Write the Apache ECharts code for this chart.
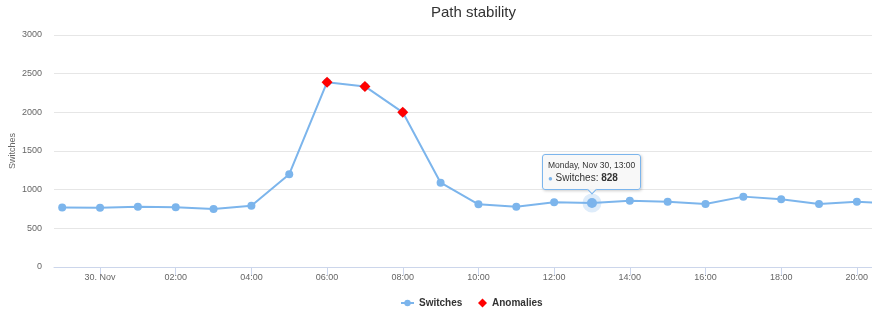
<!DOCTYPE html>
<html><head><meta charset="utf-8">
<script src="https://cdn.jsdelivr.net/npm/echarts@6/dist/echarts.min.js"></script>
<style>html,body{margin:0;padding:0;background:#fff}#c{width:872px;height:310px}</style>
</head><body><div id="c"></div>
<script>
// ---- data ----
const times = [
  '2020-11-29 23:00','2020-11-30 00:00','2020-11-30 01:00','2020-11-30 02:00','2020-11-30 03:00',
  '2020-11-30 04:00','2020-11-30 05:00','2020-11-30 06:00','2020-11-30 07:00','2020-11-30 08:00',
  '2020-11-30 09:00','2020-11-30 10:00','2020-11-30 11:00','2020-11-30 12:00','2020-11-30 13:00',
  '2020-11-30 14:00','2020-11-30 15:00','2020-11-30 16:00','2020-11-30 17:00','2020-11-30 18:00',
  '2020-11-30 19:00','2020-11-30 20:00','2020-11-30 21:00'
];
const switches = [770,767,780,772,750,793,1200,2390,2335,2000,1090,810,780,836,828,858,845,815,910,875,815,845,820];
const anomalyTimes = ['2020-11-30 06:00','2020-11-30 07:00','2020-11-30 08:00'];
const anomalies = [2390,2335,2000];
const xTickTimes = ['2020-11-30 00:00','2020-11-30 02:00','2020-11-30 04:00','2020-11-30 06:00','2020-11-30 08:00',
  '2020-11-30 10:00','2020-11-30 12:00','2020-11-30 14:00','2020-11-30 16:00','2020-11-30 18:00','2020-11-30 20:00'];
const yTicks = [0,500,1000,1500,2000,2500,3000];
const highlightTime = '2020-11-30 13:00';
const xMin = '2020-11-29 22:47';
const xMax = '2020-11-30 20:24';

function toTs(s){
  const [d,t] = s.split(' ');
  const [Y,M,D] = d.split('-').map(Number);
  const [h,m] = t.split(':').map(Number);
  return new Date(Y,M-1,D,h,m).getTime();
}
const pad = n => (n<10?'0':'')+n;
const DAYS = ['Sunday','Monday','Tuesday','Wednesday','Thursday','Friday','Saturday'];
const MONS = ['Jan','Feb','Mar','Apr','May','Jun','Jul','Aug','Sep','Oct','Nov','Dec'];
const FONT = '"Liberation Sans", Arial, sans-serif';
const BLUE = '#7cb5ec';

const hiIdx = times.indexOf(highlightTime);
const lineData = times.map((t,i) => {
  const item = { value: [toTs(t), switches[i]] };
  if (i === hiIdx) {
    item.symbolSize = 10;
    item.itemStyle = { color: BLUE, borderColor: 'rgba(124,181,236,0.25)', borderWidth: 9 };
  }
  return item;
});
const anomalyData = anomalyTimes.map((t,i) => [toTs(t), anomalies[i]]);
const xTicks = xTickTimes.map(toTs);

const legendText = { fontFamily: FONT, fontSize: 10, fontWeight: 'bold', color: '#333333' };

const chart = echarts.init(document.getElementById('c'), null, {renderer:'canvas'});
chart.setOption({
  animation: false,
  textStyle: { fontFamily: FONT },
  title: {
    text: 'Path stability', left: 426, top: 0, padding: 5,
    textStyle: { fontFamily: FONT, fontSize: 15, fontWeight: 'normal', color: '#333333' }
  },
  grid: { left: 54, right: 0, top: 35, bottom: 43, containLabel: false, outerBoundsMode: 'none' },
  xAxis: {
    type: 'value',
    min: toTs(xMin), max: toTs(xMax),
    axisLine: { lineStyle: { color: '#ccd6eb', width: 1 } },
    axisTick: { show: true, length: 8, lineStyle: { color: '#ccd6eb' }, customValues: xTicks },
    axisLabel: {
      customValues: xTicks, showMinLabel: true, showMaxLabel: true,
      fontFamily: FONT, fontSize: 9, color: '#666666', margin: 6,
      formatter: v => { const d = new Date(v); return (d.getHours()===0 && d.getMinutes()===0) ? d.getDate()+'. '+MONS[d.getMonth()] : pad(d.getHours())+':'+pad(d.getMinutes()); }
    },
    splitLine: { show: false }
  },
  yAxis: {
    type: 'value', min: yTicks[0], max: yTicks[yTicks.length-1], interval: yTicks[1]-yTicks[0],
    name: 'Switches', nameLocation: 'middle', nameGap: 37, nameMoveOverlap: false,
    nameTextStyle: { fontFamily: FONT, fontSize: 9, color: '#666666' },
    axisLine: { show: false }, axisTick: { show: false },
    axisLabel: { fontFamily: FONT, fontSize: 9, color: '#666666', margin: 12, formatter: v => String(v) },
    splitLine: { lineStyle: { color: '#e6e6e6', width: 1 } }
  },
  legend: [
    {
      left: 400, top: 298, padding: 0, itemWidth: 13, itemHeight: 8,
      textStyle: legendText, data: ['Switches']
    },
    {
      left: 478, top: 298, padding: 0, itemWidth: 9, itemHeight: 9,
      textStyle: legendText, data: ['Anomalies']
    }
  ],
  tooltip: {
    trigger: 'item', triggerOn: 'none', alwaysShowContent: true, position: 'top',
    transitionDuration: 0, showDelay: 0,
    backgroundColor: 'rgba(247,247,247,0.9)', borderColor: BLUE, borderWidth: 1, borderRadius: 3,
    padding: [4, 5],
    extraCssText: 'box-shadow:1px 1px 3px rgba(0,0,0,0.2);margin-top:7px;',
    formatter: p => {
      if (p.seriesIndex !== 0) return '';
      const d = new Date(p.value[0]);
      const head = DAYS[d.getDay()] + ', ' + MONS[d.getMonth()] + ' ' + d.getDate() + ', ' + pad(d.getHours()) + ':' + pad(d.getMinutes());
      return '<div style="font-family:' + FONT.replace(/"/g,"'") + ';color:#333;">' +
        '<div style="font-size:8.5px;line-height:12px;">' + head + '</div>' +
        '<div style="font-size:10px;line-height:13px;"><span style="color:' + BLUE + ';font-size:8px;">\u25CF</span> ' +
        p.seriesName + ': <b>' + p.value[1] + '</b></div></div>';
    }
  },
  series: [
    {
      name: 'Switches', type: 'line', data: lineData,
      symbol: 'circle', symbolSize: 8, showSymbol: true, showAllSymbol: true,
      lineStyle: { color: BLUE, width: 2 }, itemStyle: { color: BLUE },
      emphasis: { disabled: true }, clip: true, z: 2
    },
    {
      name: 'Anomalies', type: 'scatter', data: anomalyData,
      symbol: 'diamond', symbolSize: 11, symbolKeepAspect: true,
      itemStyle: { color: '#ff0000', opacity: 1 }, emphasis: { disabled: true }, z: 3, silent: true
    }
  ]
});
chart.dispatchAction({ type: 'showTip', seriesIndex: 0, dataIndex: hiIdx });
</script>
</body></html>
